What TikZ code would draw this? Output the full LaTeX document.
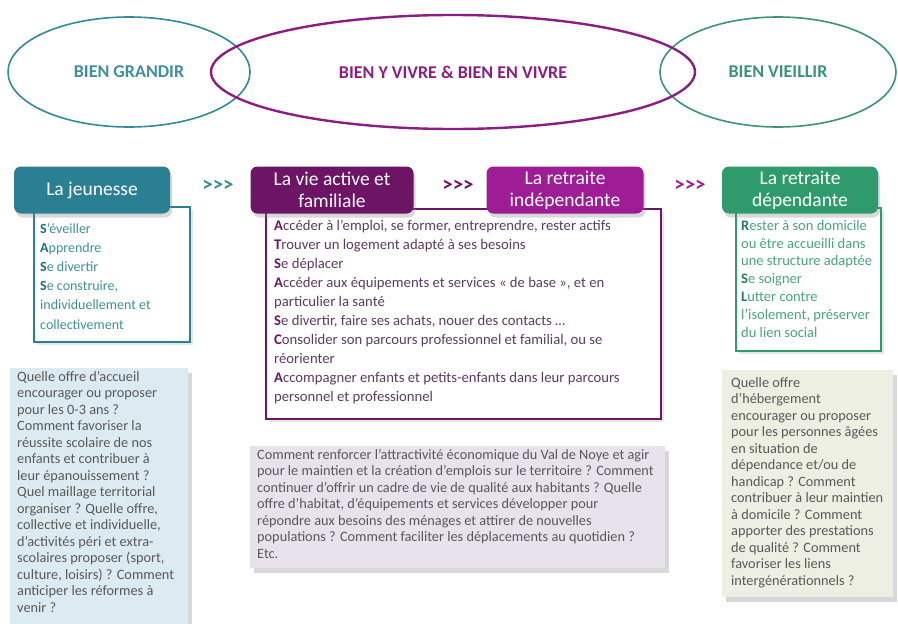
\documentclass[tikz,border=0pt]{standalone}
\usepackage{fontspec}
\setmainfont{Carlito}
\usetikzlibrary{shapes.geometric,shadows}
\definecolor{tealc}{HTML}{2B7F92}
\definecolor{tealdk}{HTML}{1F6E80}
\definecolor{tealtxt}{HTML}{3F8F9C}
\definecolor{tealsep}{HTML}{3A8C8E}
\definecolor{vdark}{HTML}{6C1565}
\definecolor{vmag}{HTML}{9E1C96}
\definecolor{vtxt}{HTML}{5E3C62}
\definecolor{greenc}{HTML}{2F9B6C}
\definecolor{greendk}{HTML}{257E58}
\definecolor{greentxt}{HTML}{4BA37D}
\definecolor{ellteal}{HTML}{2F8A99}
\definecolor{ellpurple}{HTML}{8B1E84}
\definecolor{ellgreen}{HTML}{3A9478}
\definecolor{graytxt}{HTML}{595959}
\definecolor{bluebg}{HTML}{DCEBF1}
\definecolor{lavbg}{HTML}{E7E2EC}
\definecolor{greenbg}{HTML}{ECEFE2}
\newcommand\iniT[1]{\textcolor{tealdk}{\bfseries #1}}
\newcommand\iniV[1]{\textcolor{vdark}{\bfseries #1}}
\newcommand\iniG[1]{\textcolor{greendk}{\bfseries #1}}
\tikzset{
  ell/.style={ellipse, inner sep=0pt, font=\fontsize{18}{21}\selectfont\bfseries},
  hdr/.style={rounded corners=7pt, minimum height=47pt, inner sep=0pt, text=white,
    align=center, font=\fontsize{19.5}{22}\selectfont,
    drop shadow={opacity=0.3, shadow xshift=2pt, shadow yshift=-4pt}},
  listbox/.style={draw, line width=1.6pt, anchor=north west, inner sep=0pt, fill=white,
    drop shadow={opacity=0.2, shadow xshift=3pt, shadow yshift=-3pt}},
  listtxt/.style={anchor=north west, inner sep=0pt, align=left},
  qbox/.style={anchor=north west, inner sep=0pt,
    drop shadow={opacity=0.3, shadow xshift=4pt, shadow yshift=-5pt}},
  qtxt/.style={anchor=north west, inner sep=0pt, align=left, text=graytxt,
    font=\fontsize{14.3}{16.5}\selectfont},
  sepmark/.style={font=\fontsize{21}{24}\selectfont\bfseries}
}
\begin{document}
\begin{tikzpicture}[x=1pt,y=-1pt]
\useasboundingbox (0,0) rectangle (898,624);
\fill[white] (0,0) rectangle (898,624);

% ellipses
\node[ell, draw=ellteal, line width=1.6pt, minimum width=242pt, minimum height=110pt, text=tealtxt] (grandir) at (129,72) {BIEN GRANDIR};
\node[ell, draw=ellgreen, line width=1.6pt, minimum width=236pt, minimum height=110pt, text=ellgreen] (vieillir) at (778,72) {BIEN VIEILLIR};
\node[ell, draw=ellpurple, line width=2.4pt, minimum width=484pt, minimum height=114pt, text=ellpurple] (vivre) at (453,72) {BIEN Y VIVRE \& BIEN EN VIVRE};

% content boxes
\node[listbox, draw=tealc, minimum width=156pt, minimum height=135pt] (jbox) at (33,206) {};
\node[listbox, draw=vdark, minimum width=395pt, minimum height=210pt] (vbox) at (265,208) {};
\node[listbox, draw=greenc, minimum width=145pt, minimum height=143pt] (dbox) at (735,207) {};

% headers
\node[hdr, fill=tealc, minimum width=156pt] (jeunesse) at (92,190) {La jeunesse};
\node[hdr, fill=vdark, minimum width=163pt] (active) at (332,190) {La vie active et\\familiale};
\node[hdr, fill=vmag, minimum width=157pt] (indep) at (565,190) {La retraite\\indépendante};
\node[hdr, fill=greenc, minimum width=156pt] (dep) at (800,190) {La retraite\\dépendante};

% separators
\node[sepmark, text=tealsep] (s1) at (218,186) {>{}>{}>};
\node[sepmark, text=vdark] (s2) at (458,186) {>{}>{}>};
\node[sepmark, text=vmag] (s3) at (690,186) {>{}>{}>};

% list texts
\node[listtxt, text=tealtxt, font=\fontsize{14}{19.2}\selectfont] (jtxt) at (40,223) {%
\iniT{S}'éveiller\\ \iniT{A}pprendre\\ \iniT{S}e divertir\\ \iniT{S}e construire,\\ individuellement et\\ collectivement};
\node[listtxt, text=vtxt, font=\fontsize{14.7}{19}\selectfont] (vtxt) at (274,220) {%
\iniV{A}ccéder à l'emploi, se former, entreprendre, rester actifs\\
\iniV{T}rouver un logement adapté à ses besoins\\
\iniV{S}e déplacer\\
\iniV{A}ccéder aux équipements et services « de base », et en\\
particulier la santé\\
\iniV{S}e divertir, faire ses achats, nouer des contacts …\\
\iniV{C}onsolider son parcours professionnel et familial, ou se\\
réorienter\\
\iniV{A}ccompagner enfants et petits-enfants dans leur parcours\\
personnel et professionnel};
\node[listtxt, text=greentxt, font=\fontsize{14.5}{17.8}\selectfont] (dtxt) at (741,220) {%
\iniG{R}ester à son domicile\\ ou être accueilli dans\\ une structure adaptée\\
\iniG{S}e soigner\\ \iniG{L}utter contre\\ l'isolement, préserver\\ du lien social};

% question boxes
\node[qbox, fill=bluebg, minimum width=178pt, minimum height=256pt] (qj) at (10,368) {};
\node[qbox, fill=lavbg, minimum width=415pt, minimum height=122pt] (qv) at (250,446) {};
\node[qbox, fill=greenbg, minimum width=171pt, minimum height=227pt] (qd) at (722,370) {};

\node[qtxt] (qjtxt) at (17,371) {%
Quelle offre d'accueil\\ encourager ou proposer\\ pour les 0-3 ans ?\\ Comment favoriser la\\
réussite scolaire de nos\\ enfants et contribuer à\\ leur épanouissement ?\\ Quel maillage territorial\\
organiser ? Quelle offre,\\ collective et individuelle,\\ d'activités péri et extra-\\
scolaires proposer (sport,\\ culture, loisirs) ? Comment\\ anticiper les réformes à\\ venir ?};
\node[qtxt] (qvtxt) at (257,449) {%
Comment renforcer l'attractivité économique du Val de Noye et agir\\
pour le maintien et la création d'emplois sur le territoire ? Comment\\
continuer d'offrir un cadre de vie de qualité aux habitants ? Quelle\\
offre d'habitat, d'équipements et services développer pour\\
répondre aux besoins des ménages et attirer de nouvelles\\
populations ? Comment faciliter les déplacements au quotidien ?\\
Etc.};
\node[qtxt] (qdtxt) at (731,377) {%
Quelle offre\\ d'hébergement\\ encourager ou proposer\\ pour les personnes âgées\\
en situation de\\ dépendance et/ou de\\ handicap ? Comment\\ contribuer à leur maintien\\
à domicile ? Comment\\ apporter des prestations\\ de qualité ? Comment\\ favoriser les liens\\
intergénérationnels ?};
\end{tikzpicture}
\end{document}
